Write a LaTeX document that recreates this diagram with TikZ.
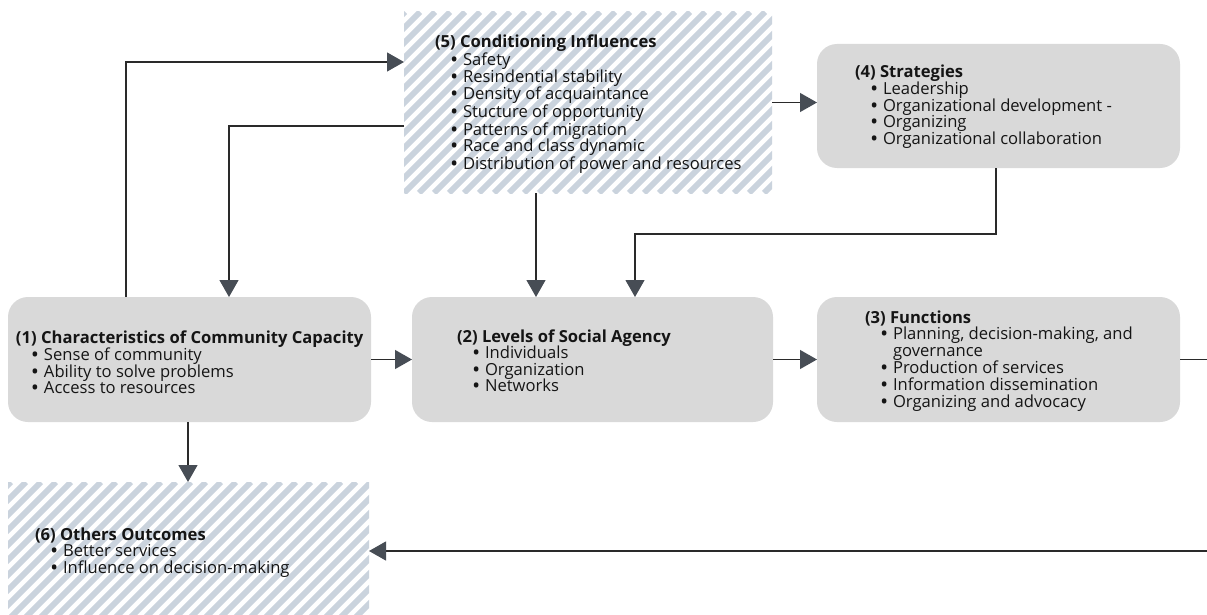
\documentclass[tikz,border=0pt]{standalone}
\usepackage{fontspec}
\setmainfont{Open Sans}
\usetikzlibrary{arrows.meta}
\definecolor{boxgrey}{HTML}{D9D9D9}
\definecolor{stripec}{HTML}{CAD3DD}
\definecolor{arrowc}{HTML}{474D55}
\definecolor{linec}{HTML}{2A2A2A}
\definecolor{txtc}{HTML}{151515}
\newcommand{\itm}[1]{\par\hspace*{16pt}\makebox[12pt][l]{\textbf{\textbullet}}#1}
\newcommand{\cont}[1]{\par\hspace*{28pt}#1}
\newcommand{\boxtext}[1]{\parbox[t]{380pt}{\fontsize{16.6pt}{16.6pt}\selectfont\raggedright #1}}
\tikzset{
  roundbox/.style={draw=none, fill=boxgrey, rounded corners=20pt, inner sep=0pt, outer sep=0pt},
  hatchbox/.style={draw=none, inner sep=0pt, outer sep=0pt},
  label text/.style={anchor=base west, inner sep=0pt, outer sep=0pt, text=txtc},
  conn/.style={draw=linec, line width=1.2pt, -{Triangle[length=17pt,width=19pt,color=arrowc]}},
  stripe/.style={draw=stripec, line width=5.8pt}
}
\begin{document}
\begin{tikzpicture}[x=1pt,y=-1pt]
\useasboundingbox (0,0) rectangle (1207,615);
\clip (0,0) rectangle (1207,615);
\fill[white] (0,0) rectangle (1207,615);

% hatched boxes
\node[hatchbox, minimum width=368pt, minimum height=181pt] (b5) at (588,102.5) {};
\node[hatchbox, minimum width=361pt, minimum height=138pt] (b6) at (188.5,551) {};
\begin{scope}
  \clip (b5.south west) rectangle (b5.north east);
  \foreach \i in {-14,...,26} {
    \draw[stripe] (404+\i*15,193) -- ++(181,-181);
  }
\end{scope}
\begin{scope}
  \clip (b6.south west) rectangle (b6.north east);
  \foreach \i in {-10,...,26} {
    \draw[stripe] (8+\i*15,620) -- ++(138,-138);
  }
\end{scope}

% rounded boxes
\node[roundbox, minimum width=363pt, minimum height=124pt] (b4) at (998.5,106) {};
\node[roundbox, minimum width=363pt, minimum height=125pt] (b1) at (189.5,359.5) {};
\node[roundbox, minimum width=361pt, minimum height=125pt] (b2) at (592.5,359.5) {};
\node[roundbox, minimum width=363pt, minimum height=125pt] (b3) at (998.5,359.5) {};

% texts
\node[label text] (t5) at (435,48) {\boxtext{\textbf{(5) Conditioning Influences}
  \itm{Safety}\itm{Resindential stability}\itm{Density of acquaintance}\itm{Stucture of opportunity}\itm{Patterns of migration}\itm{Race and class dynamic}\itm{Distribution of power and resources}}};
\node[label text] (t4) at (855,78) {\boxtext{\textbf{(4) Strategies}
  \itm{Leadership}\itm{Organizational development -}\itm{Organizing}\itm{Organizational collaboration}}};
\node[label text] (t1) at (16,343) {\boxtext{\textbf{(1) Characteristics of Community Capacity}
  \itm{Sense of community}\itm{Ability to solve problems}\itm{Access to resources}}};
\node[label text] (t2) at (457,342) {\boxtext{\textbf{(2) Levels of Social Agency}
  \itm{Individuals}\itm{Organization}\itm{Networks}}};
\node[label text] (t3) at (865,323) {\boxtext{\textbf{(3) Functions}
  \itm{Planning, decision-making, and}\cont{governance}\itm{Production of services}\itm{Information dissemination}\itm{Organizing and advocacy}}};
\node[label text] (t6) at (35,540) {\boxtext{\textbf{(6) Others Outcomes}
  \itm{Better services}\itm{Influence on decision-making}}};

% helper coordinates
\coordinate (j4) at (0,234);
\coordinate (off) at (1225,0);

% connectors
\draw[conn] ([xshift=118pt]b1.north west) |- ([yshift=-50pt]b5.north west);
\draw[conn] ([yshift=-114pt]b5.north west) -| ([xshift=221pt]b1.north west);
\draw[conn] ([xshift=132pt]b5.south west) -- ([xshift=124pt]b2.north west);
\draw[conn] ([xshift=179pt]b4.south west) -- ([xshift=179pt]b4.south west |- j4) -| ([xshift=223pt]b2.north west);
\draw[conn] (b5.east) -- (b5.east -| b4.west);
\draw[conn] (b1.east) -- (b2.west);
\draw[conn] (b2.east) -- (b3.west);
\draw[conn] (b3.east) -- (b3.east -| off) |- (b6.east);
\draw[conn] ([xshift=180pt]b1.south west) -- ([xshift=180pt]b1.south west |- b6.north);
\end{tikzpicture}
\end{document}
